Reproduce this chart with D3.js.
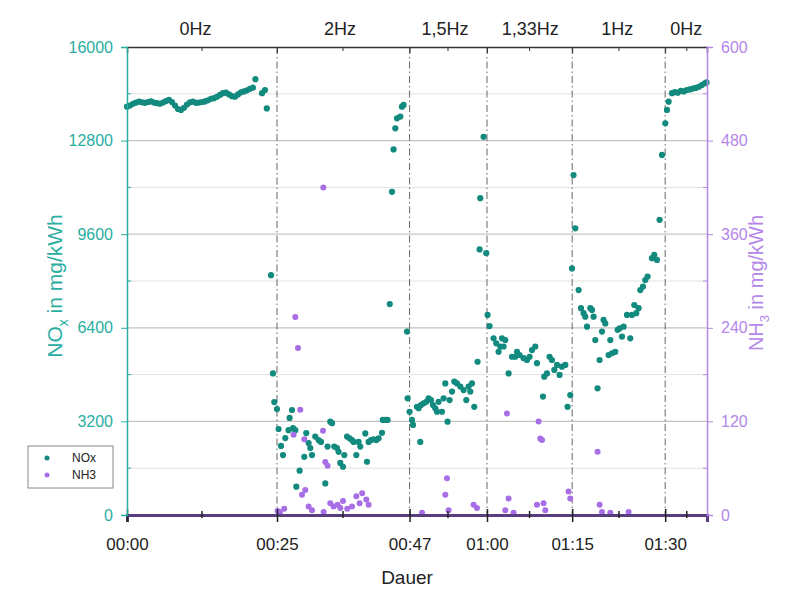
<!DOCTYPE html>
<meta charset="utf-8">
<style>
body { margin: 0; background: #fff; }
text { font-family: "Liberation Sans", Arial, sans-serif; }
</style>
<svg width="787" height="589"></svg>
<script src="https://d3js.org/d3.v7.min.js"></script>
<script>

// time in minutes, value in mg/kWh
var nox0Hz = [[0,13960],[0.5,14000],[1,14060],[1.5,14100],[2,14130],[2.5,14110],[3,14090],[3.5,14120],
  [4,14140],[4.5,14100],[5,14080],[5.5,14060],[6,14100],[6.5,14150],[7,14190],[7.5,14120],[8,14000],
  [8.5,13880],[9,13850],[9.5,13920],[10,14030],[10.5,14110],[11,14130],[11.5,14090],[12,14100],
  [12.5,14120],[13,14140],[13.5,14180],[14,14230],[14.5,14250],[15,14300],[15.5,14360],[16,14420],
  [16.5,14440],[17,14380],[17.5,14320],[18,14300],[18.5,14380],[19,14450],[19.5,14480],[20,14520],
  [20.5,14570],[21,14610],[21.4,14900],[22.5,14420],[23,14530],[23.3,13900]];

var nox2Hz = [[24.0,8200],[24.33,4840],[24.55,3860],[25.0,3620],[25.27,2940],[25.67,2360],[26.0,2050],
  [26.38,2630],[26.93,2900],[27.1,3320],[27.5,3590],[27.67,2970],[28.05,2900],[28.22,970],[28.77,1515],
  [29.55,1990],[29.88,2800],[30.27,2460],[30.55,2290],[30.83,2050],[31.38,2680],[31.93,2560],[32.33,2500],
  [33.05,1080],[33.43,2340],[33.88,3190],[34.17,3140],[34.55,2340],[35.0,2290],[35.27,2160],[35.55,1780],
  [36.0,1650],[36.22,2050],[36.67,2680],[37.1,2620],[37.5,2560],[37.77,2500],[38.22,2050],[38.6,2500],
  [38.88,2340],[39.72,2790],[40.0,1820],[40.27,2500],[40.67,2560],[41.1,2590],[41.55,2560],[41.93,2620],
  [42.5,2810],[42.63,3250],[43.05,3250],[43.43,3250],[43.8,7210],[44.17,11050],[44.43,12500],
  [44.72,13220],[45.0,13560],[45.55,13620],[45.83,13960],[46.1,14020],[46.67,6270],[46.77,3990]];

var nox15Hz = [[47.1,3530],[47.5,3250],[47.67,3080],[48.33,3700],[48.6,3650],[48.88,2500],[49.0,3760],
  [49.43,3820],[49.88,3870],[50.27,3990],[50.67,3930],[51.0,3760],[51.38,3650],[51.67,3530],[51.93,3870],
  [52.5,3530],[52.77,3990],[53.05,4500],[53.43,3190],[53.77,3930],[54.17,4220],[54.55,4560],[55.0,4500],
  [55.55,4390],[56.1,4270],[56.55,3930],[56.93,4390],[57.22,4220],[57.5,4500],[57.88,3700],[58.43,5240],
  [58.77,9080],[58.88,10830],[59.43,12930],[59.88,8950]];

var nox133Hz = [[60.1,6840],[60.43,6460],[61.1,6040],[61.55,5870],[61.93,5580],[62.22,5760],[62.5,6040],
  [62.77,5760],[63.05,5980],[63.6,4840],[64.17,5410],[64.72,5410],[65.0,5580],[65.43,5470],[66.1,5360],
  [66.67,5300],[67.1,5410],[67.5,5640],[68.05,5760],[68.33,5190],[69.33,4050],[69.55,4730],[70.0,4840],
  [70.43,5410],[70.83,5300],[71.22,4960],[71.67,5130],[72.1,4790],[72.5,5070],[73.05,5130],[73.43,3700],
  [73.88,4100],[74.17,8430],[74.43,11620],[74.72,9800]];

var nox1Hz = [[75.27,7690],[75.67,7070],[76.1,6900],[76.38,6780],[76.67,6440],[77.22,7070],[77.5,7010],
  [77.77,6780],[78.05,5980],[78.43,4330],[78.77,5300],[79.17,6270],[79.43,6670],[79.72,6550],[80.27,5470],
  [80.55,5980],[80.83,5530],[81.38,5580],[81.77,6330],[82.1,6380],[82.5,6100],[82.77,6440],[83.33,6840],
  [83.88,6040],[84.17,6840],[84.55,7180],[84.88,6900],[85.27,7070],[85.55,7690],[86.0,7810],[86.38,8030],
  [86.77,8150],[87.5,8780],[87.88,8890],[88.33,8720],[88.77,10090],[89.17,12310]];

var nox0HzEnd = [[89.72,13390],[90.0,13850],[90.27,14130],[90.83,14420],[91.3,14460],[91.8,14440],
  [92.3,14500],[92.8,14480],[93.3,14530],[93.8,14550],[94.3,14580],[94.8,14600],[95.3,14640],
  [95.8,14700],[96.3,14760],[96.6,14790]];

var nh3 = [[25.1,5],[25.5,4],[26.2,8],[27.77,103],[28.05,254],[28.5,214],[28.88,135],[29.17,26],
  [29.55,97],[29.72,32],[30.27,11],[30.83,6],[32.67,108],[32.72,420],[32.77,4],[33.05,68],[33.43,63],
  [33.88,15],[34.43,11],[35.1,13],[35.55,9],[36.0,18],[36.7,8],[37.5,11],[38.22,24],[38.77,15],
  [39.2,28],[39.88,20],[40.27,13],[49.17,3],[53.05,26],[53.33,47],[53.6,6],[57.77,13],[58.33,9],
  [63.05,6],[63.33,130],[63.6,21],[64.43,3],[68.33,13],[68.6,120],[68.88,98],[69.17,96],[69.43,15],
  [69.72,6],[73.6,30],[73.88,21],[78.43,81],[78.77,13],[79.17,4],[80.55,3],[83.6,4]];

var xTicks = [0, 25, 47.1, 60, 74.2, 89.7];
var xTickLabels = ["00:00", "00:25", "00:47", "01:00", "01:15", "01:30"];
var xMinor = [12.5, 36, 53.5, 67.1, 82, 93.3];
var phaseAt = [25, 47.1, 60, 74.2, 89.7];
var phaseLabels = ["0Hz", "2Hz", "1,5Hz", "1,33Hz", "1Hz", "0Hz"];
var phaseCenters = [11.4, 35.5, 53, 67.2, 81.7, 93.2];
var noxTicks = [0, 3200, 6400, 9600, 12800, 16000];
var nh3Ticks = [0, 120, 240, 360, 480, 600];

var svg = d3.select("svg"),
    margin = {top: 47, right: 80, bottom: 74, left: 127},
    width = 787 - margin.left - margin.right,
    height = 589 - margin.top - margin.bottom;

var teal = "#2aaea2", tealDot = "#128a7e", purple = "#b386e8", purpleDot = "#a86ee6";

var x = d3.scaleLinear().domain([0, 96.67]).range([0, width]);
var yL = d3.scaleLinear().domain([0, 16000]).range([height, 0]);
var yR = d3.scaleLinear().domain([0, 600]).range([height, 0]);

var g = svg.append("g").attr("transform", "translate(" + margin.left + "," + margin.top + ")");

// grid lines
var gridMinor = d3.range(1600, 16000, 3200);
g.selectAll(".gm").data(gridMinor).enter().append("line")
    .attr("x1", 0).attr("x2", width)
    .attr("y1", function(d) { return yL(d); }).attr("y2", function(d) { return yL(d); })
    .attr("stroke", "#e2e2e2").attr("stroke-width", 1);
g.selectAll(".gM").data(noxTicks.slice(1, -1)).enter().append("line")
    .attr("x1", 0).attr("x2", width)
    .attr("y1", function(d) { return yL(d); }).attr("y2", function(d) { return yL(d); })
    .attr("stroke", "#c4c4c4").attr("stroke-width", 1.2);

// phase separators
g.selectAll(".sep").data(phaseAt).enter().append("line")
    .attr("x1", function(d) { return x(d); }).attr("x2", function(d) { return x(d); })
    .attr("y1", 0).attr("y2", height)
    .attr("stroke", "#666").attr("stroke-width", 1)
    .attr("stroke-dasharray", "7,3,1.5,3");

// phase labels
g.selectAll(".ph").data(phaseLabels).enter().append("text")
    .attr("x", function(d, i) { return x(phaseCenters[i]); })
    .attr("y", -12)
    .attr("text-anchor", "middle")
    .attr("font-size", 18)
    .attr("fill", "#222")
    .text(function(d) { return d; });

// points
var noxAll = [].concat(nox0Hz, nox2Hz, nox15Hz, nox133Hz, nox1Hz, nox0HzEnd);
g.selectAll(".nox").data(noxAll).enter().append("circle")
    .attr("cx", function(d) { return x(d[0]); })
    .attr("cy", function(d) { return yL(d[1]); })
    .attr("r", 3.1)
    .attr("fill", tealDot);

g.selectAll(".nh3").data(nh3).enter().append("circle")
    .attr("cx", function(d) { return x(d[0]); })
    .attr("cy", function(d) { return yR(d[1]); })
    .attr("r", 3)
    .attr("fill", purpleDot);

// axes
var xAxis = g.append("g").attr("transform", "translate(0," + height + ")")
    .call(d3.axisBottom(x).tickValues(xTicks).tickSize(7).tickPadding(16)
      .tickFormat(function(d, i) { return xTickLabels[i]; }));
xAxis.select(".domain").attr("stroke", "#5a3d7e").attr("stroke-width", 3);
xAxis.selectAll(".tick line").attr("stroke", "#222").attr("stroke-width", 1.5).attr("y1", -6);
xAxis.selectAll("text").attr("font-size", 17).attr("fill", "#222");
xAxis.selectAll(".mn").data(xMinor).enter().append("line")
    .attr("x1", function(d) { return x(d); }).attr("x2", function(d) { return x(d); })
    .attr("y1", -4).attr("y2", 3).attr("stroke", "#222").attr("stroke-width", 1.5);

var topAxis = g.append("g")
    .call(d3.axisTop(x).tickValues(xTicks).tickSize(-6).tickFormat(""));
topAxis.select(".domain").attr("stroke", "#333").attr("stroke-width", 1.5);
topAxis.selectAll(".tick line").attr("stroke", "#333");
topAxis.selectAll(".mn").data(xMinor).enter().append("line")
    .attr("x1", function(d) { return x(d); }).attr("x2", function(d) { return x(d); })
    .attr("y1", 0).attr("y2", 4).attr("stroke", "#333");

var leftAxis = g.append("g")
    .call(d3.axisLeft(yL).tickValues(noxTicks).tickSize(6).tickPadding(8).tickFormat(d3.format("d")));
leftAxis.select(".domain").attr("stroke", teal).attr("stroke-width", 1.5);
leftAxis.selectAll(".tick line").attr("stroke", teal);
leftAxis.selectAll("text").attr("font-size", 16).attr("fill", teal);
leftAxis.selectAll(".mn").data(gridMinor).enter().append("line")
    .attr("y1", function(d) { return yL(d); }).attr("y2", function(d) { return yL(d); })
    .attr("x1", 0).attr("x2", 4).attr("stroke", teal);

var rightAxis = g.append("g").attr("transform", "translate(" + width + ",0)")
    .call(d3.axisRight(yR).tickValues(nh3Ticks).tickSize(6).tickPadding(8));
rightAxis.select(".domain").attr("stroke", purple).attr("stroke-width", 1.5);
rightAxis.selectAll(".tick line").attr("stroke", purple);
rightAxis.selectAll("text").attr("font-size", 16).attr("fill", purple);
rightAxis.selectAll(".mn").data(d3.range(60, 600, 120)).enter().append("line")
    .attr("y1", function(d) { return yR(d); }).attr("y2", function(d) { return yR(d); })
    .attr("x1", -4).attr("x2", 0).attr("stroke", purple);

// axis titles
var lt = svg.append("text")
    .attr("transform", "translate(62," + (margin.top + height / 2 + 5) + ") rotate(-90)")
    .attr("text-anchor", "middle").attr("font-size", 21).attr("fill", teal);
lt.append("tspan").text("NO");
lt.append("tspan").attr("font-size", 14).attr("dy", 6).text("x");
lt.append("tspan").attr("dy", -6).text(" in mg/kWh");

var rt = svg.append("text")
    .attr("transform", "translate(763," + (margin.top + height / 2 + 2) + ") rotate(-90)")
    .attr("text-anchor", "middle").attr("font-size", 20).attr("fill", purple);
rt.append("tspan").text("NH");
rt.append("tspan").attr("font-size", 13).attr("dy", 6).text("3");
rt.append("tspan").attr("dy", -6).text(" in mg/kWh");

svg.append("text")
    .attr("x", margin.left + width / 2 - 10).attr("y", 584)
    .attr("text-anchor", "middle").attr("font-size", 19).attr("fill", "#222")
    .text("Dauer");

// legend
var lg = svg.append("g").attr("transform", "translate(28,446)");
lg.append("rect").attr("width", 85).attr("height", 42)
    .attr("fill", "#fff").attr("stroke", "#888").attr("stroke-width", 1);
var legendItems = [["NOx", tealDot], ["NH3", purpleDot]];
legendItems.forEach(function(d, i) {
  lg.append("circle").attr("cx", 19).attr("cy", 12 + i * 17).attr("r", 2.5).attr("fill", d[1]);
  lg.append("text").attr("x", 44).attr("y", 16 + i * 17).attr("font-size", 12)
    .attr("fill", "#222").text(d[0]);
});

</script>
